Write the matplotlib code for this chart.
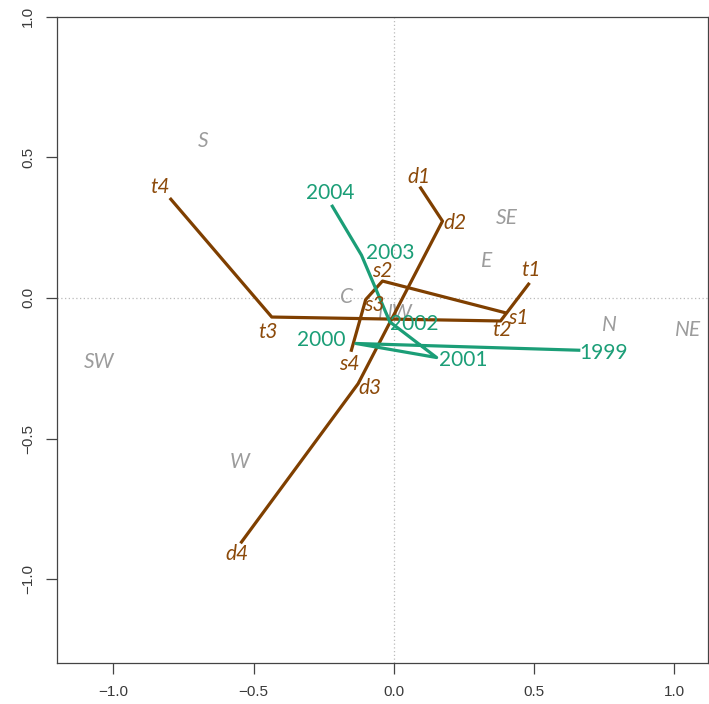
import matplotlib
matplotlib.use("Agg")
import matplotlib.pyplot as plt

# ---- data ----
t_names = ["t1", "t2", "t3", "t4"]
t_x = [0.481, 0.381, -0.435, -0.795]
t_y = [0.049, -0.082, -0.068, 0.351]
t_lx = [0.491, 0.386, -0.450, -0.832]
t_ly = [0.099, -0.115, -0.121, 0.393]

s_names = ["s1", "s2", "s3", "s4"]
s_x = [0.399, -0.040, -0.100, -0.151]
s_y = [-0.053, 0.060, -0.006, -0.186]
s_lx = [0.443, -0.040, -0.068, -0.159]
s_ly = [-0.070, 0.096, -0.026, -0.236]

d_names = ["d1", "d2", "d3", "d4"]
d_x = [0.096, 0.174, -0.127, -0.543]
d_y = [0.391, 0.273, -0.305, -0.868]
d_lx = [0.090, 0.217, -0.086, -0.559]
d_ly = [0.431, 0.267, -0.322, -0.910]

years = ["1999", "2000", "2001", "2002", "2003", "2004"]
yr_x = [0.660, -0.135, 0.153, -0.014, -0.115, -0.219]
yr_y = [-0.186, -0.162, -0.212, -0.085, 0.152, 0.326]
yr_lx = [0.749, -0.258, 0.247, 0.075, -0.011, -0.226]
yr_ly = [-0.196, -0.150, -0.219, -0.094, 0.158, 0.372]

dirs = ["S", "SE", "E", "N", "NE", "SW", "W", "C", "NW"]
dir_x = [-0.681, 0.404, 0.333, 0.770, 1.049, -1.052, -0.549, -0.168, 0.007]
dir_y = [0.558, 0.285, 0.132, -0.097, -0.115, -0.229, -0.585, 0.002, -0.053]

x_ticks = [-1.0, -0.5, 0.0, 0.5, 1.0]
y_ticks = [-1.0, -0.5, 0.0, 0.5, 1.0]

BROWN = "#7f3f00"
BROWN_TXT = "#8c4a0a"
GREEN = "#1b9e77"
GRAY = "#9c9c9c"
LABEL_FONT = ["Lato", "DejaVu Sans"]
FS = 15

fig = plt.figure(figsize=(7.09, 7.04), dpi=100)
ax = fig.add_axes([0.0808, 0.0587, 0.9174, 0.9176])
ax.set_xlim(-1.2, 1.12)
ax.set_ylim(-1.297, 1.0)

ax.axhline(0, color="#bbbbbb", lw=0.9, ls=(0, (1, 2)), zorder=0)
ax.axvline(0, color="#bbbbbb", lw=0.9, ls=(0, (1, 2)), zorder=0)

# gray direction labels
for n, x, y in zip(dirs, dir_x, dir_y):
    ax.text(x, y, n, color=GRAY, fontsize=FS, style="italic", family=LABEL_FONT,
            ha="center", va="center", zorder=1)

for xs, ys in [(t_x, t_y), (s_x, s_y), (d_x, d_y)]:
    ax.plot(xs, ys, color=BROWN, lw=2.3, zorder=2)
ax.plot(yr_x, yr_y, color=GREEN, lw=2.3, zorder=2)

for names, lx, ly in [(t_names, t_lx, t_ly), (s_names, s_lx, s_ly), (d_names, d_lx, d_ly)]:
    for n, x, y in zip(names, lx, ly):
        ax.text(x, y, n, color=BROWN_TXT, fontsize=FS, style="italic", family=LABEL_FONT,
                ha="center", va="center", zorder=3)
for n, x, y in zip(years, yr_lx, yr_ly):
    ax.text(x, y, n, color=GREEN, fontsize=FS, family=LABEL_FONT,
            ha="center", va="center", zorder=3)

ax.set_xticks(x_ticks)
ax.set_yticks(y_ticks)
ax.set_xticklabels([f"{v:.1f}".replace("-", "\u2212") for v in x_ticks])
ax.set_yticklabels([f"{v:.1f}".replace("-", "\u2212") for v in y_ticks],
                   rotation=90, va="center")
ax.tick_params(axis="both", direction="out", length=8, width=0.9, color="#444444",
               labelsize=11, labelcolor="#3a3a3a", pad=8)
for lab in ax.get_xticklabels() + ax.get_yticklabels():
    lab.set_family(["Liberation Sans", "DejaVu Sans"])
for sp in ax.spines.values():
    sp.set_color("#444444")
    sp.set_linewidth(0.9)

fig.savefig("out.png", dpi=100)
